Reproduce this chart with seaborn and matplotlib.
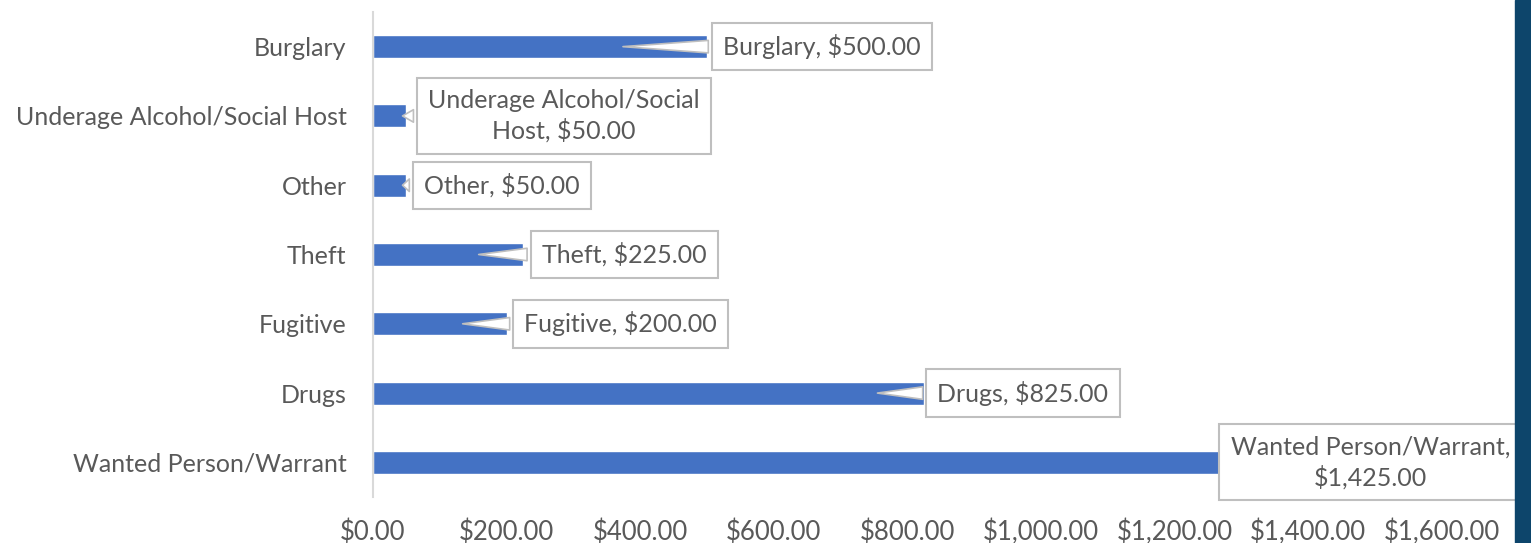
import pandas as pd
import matplotlib.pyplot as plt
import matplotlib.patches as mpatches
import seaborn as sns

# --- Dados ---
categorias = ['Burglary', 'Underage Alcohol/Social Host', 'Other', 'Theft',
              'Fugitive', 'Drugs', 'Wanted Person/Warrant']
valores = [500, 50, 50, 225, 200, 825, 1425]
rotulos = ['Burglary, $500.00', 'Underage Alcohol/Social\nHost, $50.00',
           'Other, $50.00', 'Theft, $225.00', 'Fugitive, $200.00',
           'Drugs, $825.00', 'Wanted Person/Warrant,\n$1,425.00']
ticks_x = [0, 200, 400, 600, 800, 1000, 1200, 1400, 1600]

# posicao das caixas (deslocamento em $ a partir do valor) e ponta da seta
desloc_caixa = [172, 236, 143, 151, 171, 148, 68]
desloc_ponta = [-130, -10, -10, -71, -70, -74, None]

cor_texto = '#595959'
tam = 18

sns.set_theme(style="white")
plt.rcParams['font.family'] = ['Lato', 'DejaVu Sans']

fig = plt.figure(figsize=(15.31, 5.43), dpi=100)
ax = fig.add_axes([373 / 1531, 1 - 497 / 543, 1 - 373 / 1531, 485 / 543])

df = pd.DataFrame({'categoria': categorias, 'valor': valores})
sns.barplot(data=df, x='valor', y='categoria', orient='h', color='#4472c4',
            saturation=1, width=0.33, ax=ax)

ax.set_xlim(0, (1531 - 373) / 0.668)
ax.set_ylim(6.5, -0.5)
ax.set_xticks(ticks_x)
ax.set_xticklabels([f'${v:,.2f}' for v in ticks_x])
ax.set_xlabel('')
ax.set_ylabel('')
ax.tick_params(axis='both', length=0, labelsize=tam, colors=cor_texto)
ax.tick_params(axis='x', pad=16, labelsize=18.5)
ax.tick_params(axis='y', pad=19)

for s in ['top', 'right', 'bottom']:
    ax.spines[s].set_visible(False)
ax.spines['left'].set_color('#d9d9d9')
ax.spines['left'].set_linewidth(1.5)

# rotulos tipo "callout"
for i, (v, txt) in enumerate(zip(valores, rotulos)):
    caixa = dict(boxstyle='square,pad=0.45', fc='white', ec='#bfbfbf', lw=1.5)
    if desloc_ponta[i] is None:
        ax.text(v + desloc_caixa[i], i, txt, ha='center', va='center',
                fontsize=tam, color=cor_texto, bbox=caixa, zorder=5,
                linespacing=1.3)
    else:
        ax.annotate(txt, xy=(v + desloc_ponta[i], i),
                    xytext=(v + desloc_caixa[i], i),
                    ha='center', va='center', fontsize=tam, color=cor_texto,
                    bbox=caixa, zorder=5, linespacing=1.3,
                    arrowprops=dict(arrowstyle='wedge,tail_width=0.5',
                                    fc='white', ec='#bfbfbf', lw=1.2))

# faixa escura na borda direita
fig.patches.append(mpatches.Rectangle((1515 / 1531, 0), 16 / 1531, 1,
                                      transform=fig.transFigure,
                                      color='#0d456b', zorder=10))

fig.savefig('out.png', dpi=100)
